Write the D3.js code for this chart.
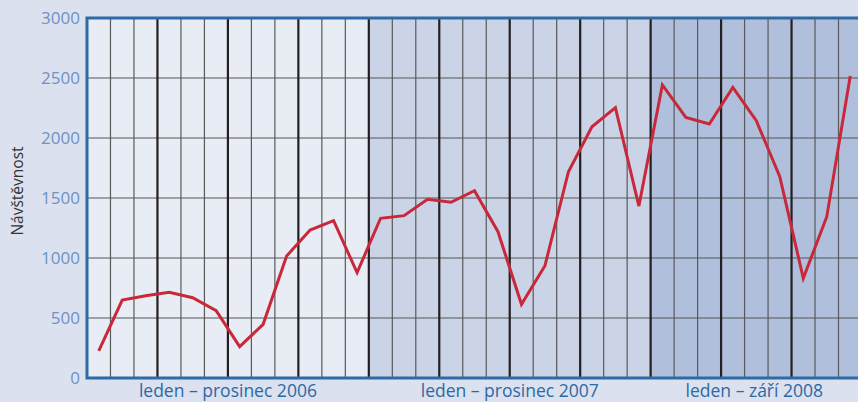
<!DOCTYPE html>
<html>
<head>
<meta charset="utf-8">
<script src="https://cdn.jsdelivr.net/npm/d3@7"></script>
<style>
  body { margin: 0; background: #dbe1ee; }
  svg { display: block; font-family: "Open Sans", sans-serif; }
</style>
</head>
<body>
<div id="chart"></div>
<script>
// monthly visits, Jan 2006 - Sep 2008
const visits2006 = [227, 650, 686, 714, 669, 561, 261, 447, 1017, 1233, 1311, 878];
const visits2007 = [1331, 1353, 1489, 1464, 1561, 1219, 614, 936, 1719, 2094, 2253, 1433];
const visits2008 = [2442, 2172, 2117, 2422, 2144, 1678, 831, 1344, 2517];
const periods = ["leden – prosinec 2006", "leden – prosinec 2007", "leden – září 2008"];
const periodMonths = [12, 12, 9];
const yTicks = [0, 500, 1000, 1500, 2000, 2500, 3000];

(function visitsChart() {
  const width = 858,
    height = 402,
    margin = { top: 18, right: -4, bottom: 24, left: 87 };

  const values = visits2006.concat(visits2007, visits2008);
  const bandColors = ["#e8ecf5", "#cbd4e7", "#b0c0dc"];

  const svg = d3.select("#chart")
    .append("svg")
    .attr("width", width)
    .attr("height", height);

  let x = d3.scaleLinear([0, values.length], [margin.left, width - margin.right]);
  let y = d3.scaleLinear([0, 3000], [height - margin.bottom, margin.top]);

  // year bands
  let start = 0;
  const bands = periods.map((p, i) => {
    const b = { label: p, from: start, to: start + periodMonths[i], color: bandColors[i] };
    start += periodMonths[i];
    return b;
  });

  svg.append("g")
    .selectAll("rect")
    .data(bands)
    .join("rect")
    .attr("x", d => x(d.from))
    .attr("y", y(3000))
    .attr("width", d => x(d.to) - x(d.from))
    .attr("height", y(0) - y(3000))
    .attr("fill", d => d.color);

  // horizontal grid
  svg.append("g")
    .selectAll("line")
    .data(yTicks.slice(1, -1))
    .join("line")
    .attr("x1", x(0))
    .attr("x2", width)
    .attr("y1", d => y(d))
    .attr("y2", d => y(d))
    .attr("stroke", "#555")
    .attr("stroke-width", 1.2);

  // month lines, thicker every quarter
  svg.append("g")
    .selectAll("line")
    .data(d3.range(1, values.length))
    .join("line")
    .attr("x1", d => x(d))
    .attr("x2", d => x(d))
    .attr("y1", y(3000))
    .attr("y2", y(0))
    .attr("stroke", d => d % 3 === 0 ? "#231f20" : "#595959")
    .attr("stroke-width", d => d % 3 === 0 ? 2.2 : 1.2);

  // line
  const line = d3.line()
    .x((d, i) => x(i + 0.5))
    .y(d => y(d));

  svg.append("path")
    .datum(values)
    .attr("fill", "none")
    .attr("stroke", "#c8283a")
    .attr("stroke-width", 3)
    .attr("stroke-linejoin", "miter")
    .attr("d", line);

  // axis frame
  svg.append("path")
    .attr("fill", "none")
    .attr("stroke", "#2e6aa6")
    .attr("stroke-width", 3)
    .attr("d", `M${width},${y(3000)}H${x(0)}V${y(0)}H${width}`);

  // y tick labels
  svg.append("g")
    .selectAll("text")
    .data(yTicks)
    .join("text")
    .attr("x", x(0) - 7)
    .attr("y", d => y(d))
    .attr("dy", "0.36em")
    .attr("text-anchor", "end")
    .attr("fill", "#6e92c4")
    .style("font-size", "17px")
    .text(d => d);

  // period labels
  svg.append("g")
    .selectAll("text")
    .data(bands)
    .join("text")
    .attr("x", d => (x(d.from) + Math.min(x(d.to), width)) / 2)
    .attr("y", 397)
    .attr("text-anchor", "middle")
    .attr("fill", "#2d69a5")
    .style("font-size", "17.5px")
    .text(d => d.label);

  svg.append("text")
    .attr("transform", "translate(23,191) rotate(-90)")
    .attr("text-anchor", "middle")
    .attr("fill", "#333")
    .style("font-size", "15.5px")
    .text("Návštěvnost");
})();
</script>
</body>
</html>
